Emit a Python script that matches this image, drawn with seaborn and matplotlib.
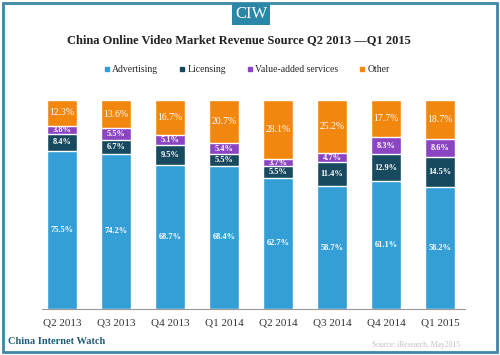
import matplotlib
matplotlib.use("Agg")
import matplotlib.pyplot as plt
from matplotlib.patches import Rectangle
from matplotlib.lines import Line2D
import seaborn as sns
import pandas as pd
import numpy as np

# Chart data
quarters = ["Q2 2013", "Q3 2013", "Q4 2013", "Q1 2014", "Q2 2014", "Q3 2014", "Q4 2014", "Q1 2015"]
advertising = [75.5, 74.2, 68.7, 68.4, 62.7, 58.7, 61.1, 58.2]
licensing = [8.4, 6.7, 9.5, 5.5, 5.5, 11.4, 12.9, 14.5]
value_added = [3.8, 5.5, 5.1, 5.4, 3.7, 4.7, 8.3, 8.6]
other = [12.3, 13.6, 16.7, 20.7, 28.1, 25.2, 17.7, 18.7]

series_names = ["Advertising", "Licensing", "Value-added services", "Other"]
colors = ["#349fd6", "#174a5f", "#8b45c2", "#f2870f"]

sns.set_theme(style="white")
plt.rcParams['font.family'] = ['Liberation Serif', 'DejaVu Serif']

df = pd.DataFrame({"quarter": quarters, "Advertising": advertising, "Licensing": licensing,
                   "Value-added services": value_added, "Other": other})
cum = df[series_names].cumsum(axis=1)

fig = plt.figure(figsize=(5, 3.55), dpi=100)
ax = fig.add_axes([0.084, 0.1296, 0.846, 0.589])

# draw stacked bars by overlaying cumulative totals, largest first
for name, color in reversed(list(zip(series_names, colors))):
    sns.barplot(x=df["quarter"], y=cum[name], color=color, width=0.555,
                edgecolor="white", linewidth=1, ax=ax, saturation=1)

# segment labels
for name in series_names:
    tops = cum[name].values
    bottoms = tops - df[name].values
    for i, (b, t, v) in enumerate(zip(bottoms, tops, df[name].values)):
        weight = "normal" if name == "Other" else "bold"
        size = 7 if name == "Other" else 6
        ax.text(i, (b + t) / 2, f"{v:.1f}%", ha="center", va="center",
                color="white", fontsize=size, fontweight=weight)

ax.set_ylim(0, 100)
ax.set_xlim(-0.37, 7.46)
ax.set_yticks([])
ax.set_xlabel("")
ax.set_ylabel("")
for s in ["top", "right", "left"]:
    ax.spines[s].set_visible(False)
ax.spines["bottom"].set_color("#999999")
ax.spines["bottom"].set_linewidth(0.8)
ax.tick_params(axis="x", labelsize=8, colors="#333333", length=0, pad=7)

# title and legend
fig.text(0.477, 1 - 40 / 355, "China Online Video Market Revenue Source Q2 2013 \u2014Q1 2015",
         ha="center", va="center", fontsize=9, fontweight="bold", color="#222222")
handles = [Line2D([], [], marker="s", linestyle="", color=c, markersize=2.5) for c in colors]
fig.legend(handles, series_names, loc="center", bbox_to_anchor=(0.492, 1 - 70 / 355), ncol=4,
           frameon=False, fontsize=7, handletextpad=0.0, columnspacing=2.0, handlelength=1)

# frame and header box
fig.patches.append(Rectangle((0.006, 0.008), 0.988, 0.984, transform=fig.transFigure,
                             fill=False, edgecolor="#3f86a8", linewidth=2))
fig.patches.append(Rectangle((232 / 500, 1 - 25 / 355), 38 / 500, 22 / 355, transform=fig.transFigure,
                             facecolor="#2b87a8", edgecolor="none"))
fig.text(251 / 500, 1 - 14 / 355, "CIW", ha="center", va="center", color="white", fontsize=12)

fig.text(8 / 500, 1 - 341 / 355, "China Internet Watch", ha="left", va="center",
         fontsize=7.5, fontweight="bold", color="#1f5d78")
fig.text(460 / 500, 1 - 345 / 355, "Source: iResearch, May2015", ha="right", va="center",
         fontsize=5.5, color="#c0c0c0")

fig.savefig("out.png", dpi=100)
